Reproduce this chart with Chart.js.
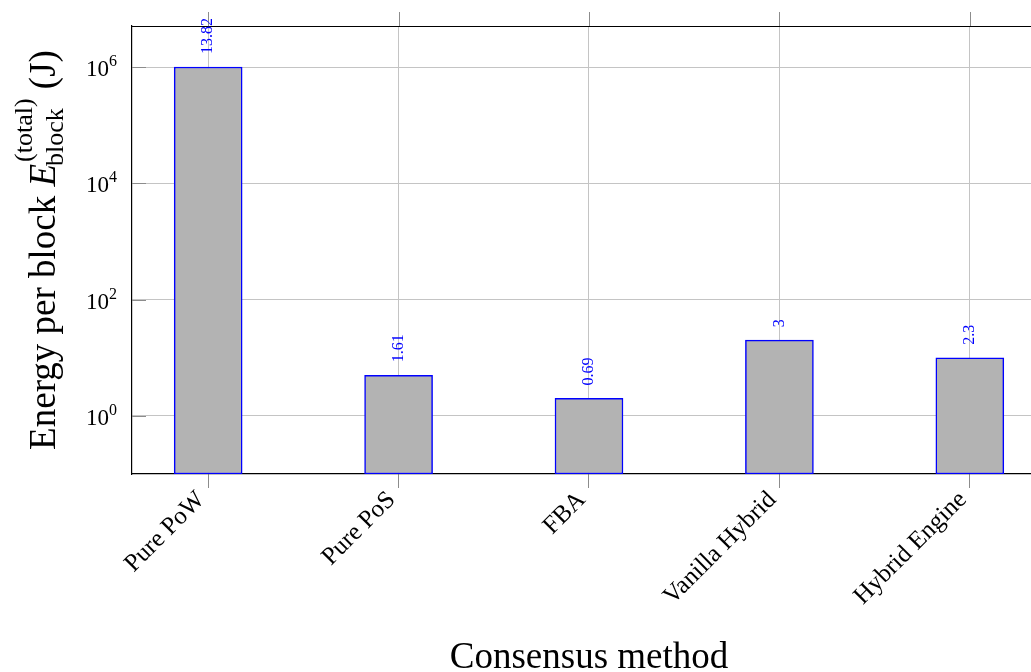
<!DOCTYPE html>
<html>
<head>
<meta charset="utf-8">
<title>Energy per block by consensus method</title>
<script src="https://cdn.jsdelivr.net/npm/chart.js@4.4.1/dist/chart.umd.min.js"></script>
<style>
  html, body { margin: 0; padding: 0; background: #fff; overflow: hidden; }
  #wrap { width: 1046px; height: 672px; }
</style>
</head>
<body>
<div id="wrap"><canvas id="chart" width="1046" height="672"></canvas></div>
<script>
// Consensus methods on the x axis
const categories = ['Pure PoW', 'Pure PoS', 'FBA', 'Vanilla Hybrid', 'Hybrid Engine'];
// Natural log of the energy per block, as printed above each bar
const lnEnergy = [13.82, 1.61, 0.69, 3, 2.3];
// Energy per block in joules (bar heights)
const energy = lnEnergy.map(v => Math.exp(v));
// Labelled decades on the logarithmic y axis
const yTickValues = [1, 100, 10000, 1000000];
const yTickExponents = ['0', '2', '4', '6'];

const SERIF = '"Liberation Serif", "Times New Roman", serif';
const GRID = '#c4c4c4';
const TICK = '#8c8c8c';

// Extra decorations: closed top edge, outer ticks, rotated category labels,
// exponent tick labels, value labels and the axis titles with sub/superscripts.
const decor = {
  id: 'decor',
  afterDatasetsDraw(chart) {
    const { ctx, chartArea: a, scales: { x, y } } = chart;
    ctx.save();

    // top tick marks
    ctx.strokeStyle = TICK;
    ctx.lineWidth = 1;
    x.ticks.forEach(t => {
      const px = Math.round(x.getPixelForValue(t.value)) + 0.5;
      ctx.beginPath();
      ctx.moveTo(px, a.top - 14);
      ctx.lineTo(px, a.top);
      ctx.stroke();
    });

    // short inner ticks on the y axis
    y.ticks.forEach(t => {
      const py = Math.round(y.getPixelForValue(t.value)) + 0.5;
      ctx.beginPath();
      ctx.moveTo(a.left, py);
      ctx.lineTo(a.left + 14, py);
      ctx.stroke();
    });

    // top edge of the plot box
    ctx.strokeStyle = '#000';
    ctx.lineWidth = 1.2;
    ctx.beginPath();
    ctx.moveTo(a.left, a.top + 0.5);
    ctx.lineTo(a.right, a.top + 0.5);
    ctx.stroke();

    // category labels, rotated 45 degrees, ending under each tick
    ctx.fillStyle = '#000';
    ctx.font = '25px ' + SERIF;
    ctx.textAlign = 'right';
    ctx.textBaseline = 'middle';
    x.ticks.forEach(t => {
      const px = x.getPixelForValue(t.value);
      ctx.save();
      ctx.translate(px - 7, a.bottom + 22);
      ctx.rotate(-Math.PI / 4);
      ctx.fillText(categories[t.value], 0, 0);
      ctx.restore();
    });

    // y tick labels 10^k
    ctx.textBaseline = 'alphabetic';
    yTickValues.forEach((v, i) => {
      const py = y.getPixelForValue(v);
      ctx.font = '16px ' + SERIF;
      const we = ctx.measureText(yTickExponents[i]).width;
      const right = a.left - 15;
      ctx.textAlign = 'right';
      ctx.fillText(yTickExponents[i], right, py - 1);
      ctx.font = '23px ' + SERIF;
      ctx.fillText('10', right - we, py + 9);
    });

    // value labels above bars, rotated
    ctx.fillStyle = '#0000ff';
    ctx.font = '16px ' + SERIF;
    ctx.textAlign = 'left';
    ctx.textBaseline = 'middle';
    const meta = chart.getDatasetMeta(0);
    meta.data.forEach((bar, i) => {
      ctx.save();
      ctx.translate(bar.x, bar.y - 13);
      ctx.rotate(-Math.PI / 2);
      ctx.fillText(String(lnEnergy[i]), 0, 0);
      ctx.restore();
    });

    // x axis title
    ctx.fillStyle = '#000';
    ctx.font = '37px ' + SERIF;
    ctx.textAlign = 'center';
    ctx.textBaseline = 'alphabetic';
    ctx.fillText('Consensus method', (a.left + a.right) / 2, 668);

    // y axis title: Energy per block E_block^(total) (J)
    const fMain = '37px ' + SERIF;
    const fItal = 'italic 37px ' + SERIF;
    const fScript = '26px ' + SERIF;
    ctx.font = fMain;
    const w1 = ctx.measureText('Energy per block ').width;
    ctx.font = fItal;
    const wE = ctx.measureText('E').width;
    ctx.font = fScript;
    const wSub = ctx.measureText('block').width;
    const wSup = ctx.measureText('(total)').width;
    ctx.font = fMain;
    const wJ = ctx.measureText(' (J)').width;
    const total = w1 + wE + 2 + Math.max(wSub, wSup) + wJ;
    const cy = (a.top + a.bottom) / 2;
    ctx.save();
    ctx.translate(55, cy);
    ctx.rotate(-Math.PI / 2);
    ctx.textAlign = 'left';
    let cx = -total / 2;
    ctx.font = fMain;
    ctx.fillText('Energy per block ', cx, 0);
    cx += w1;
    ctx.font = fItal;
    ctx.fillText('E', cx, 0);
    cx += wE;
    ctx.font = fScript;
    ctx.fillText('block', cx - 2, 8);
    ctx.fillText('(total)', cx + 2, -23);
    cx += 2 + Math.max(wSub, wSup);
    ctx.font = fMain;
    ctx.fillText(' (J)', cx, 0);
    ctx.restore();

    ctx.restore();
  }
};

new Chart(document.getElementById('chart'), {
  type: 'bar',
  data: {
    datasets: [{
      data: energy.map((v, i) => ({ x: i, y: v })),
      backgroundColor: '#b3b3b3',
      borderColor: '#0000ff',
      borderWidth: 1.5,
      borderSkipped: false,
      barThickness: 68
    }]
  },
  options: {
    responsive: false,
    animation: false,
    devicePixelRatio: 1,
    layout: { padding: { top: 26, right: 0, bottom: 0, left: 0 } },
    plugins: { legend: { display: false }, tooltip: { enabled: false } },
    scales: {
      x: {
        type: 'linear',
        min: -0.4,
        max: 4.4,
        offset: false,
        afterBuildTicks: s => { s.ticks = categories.map((_, i) => ({ value: i })); },
        afterFit: s => { s.height = 198; },
        grid: { offset: false, color: GRID, tickColor: TICK, tickLength: 14, drawTicks: true, lineWidth: 1 },
        border: { color: '#000', width: 1.2 },
        ticks: { display: false }
      },
      y: {
        type: 'logarithmic',
        min: 0.1,
        max: Math.pow(10, 6.707),
        afterBuildTicks: s => { s.ticks = yTickValues.map(v => ({ value: v })); },
        afterFit: s => { s.width = 132; },
        grid: { color: GRID, drawTicks: false, lineWidth: 1 },
        border: { color: '#000', width: 1.2 },
        ticks: { display: false }
      }
    }
  },
  plugins: [decor]
});
</script>
</body>
</html>
